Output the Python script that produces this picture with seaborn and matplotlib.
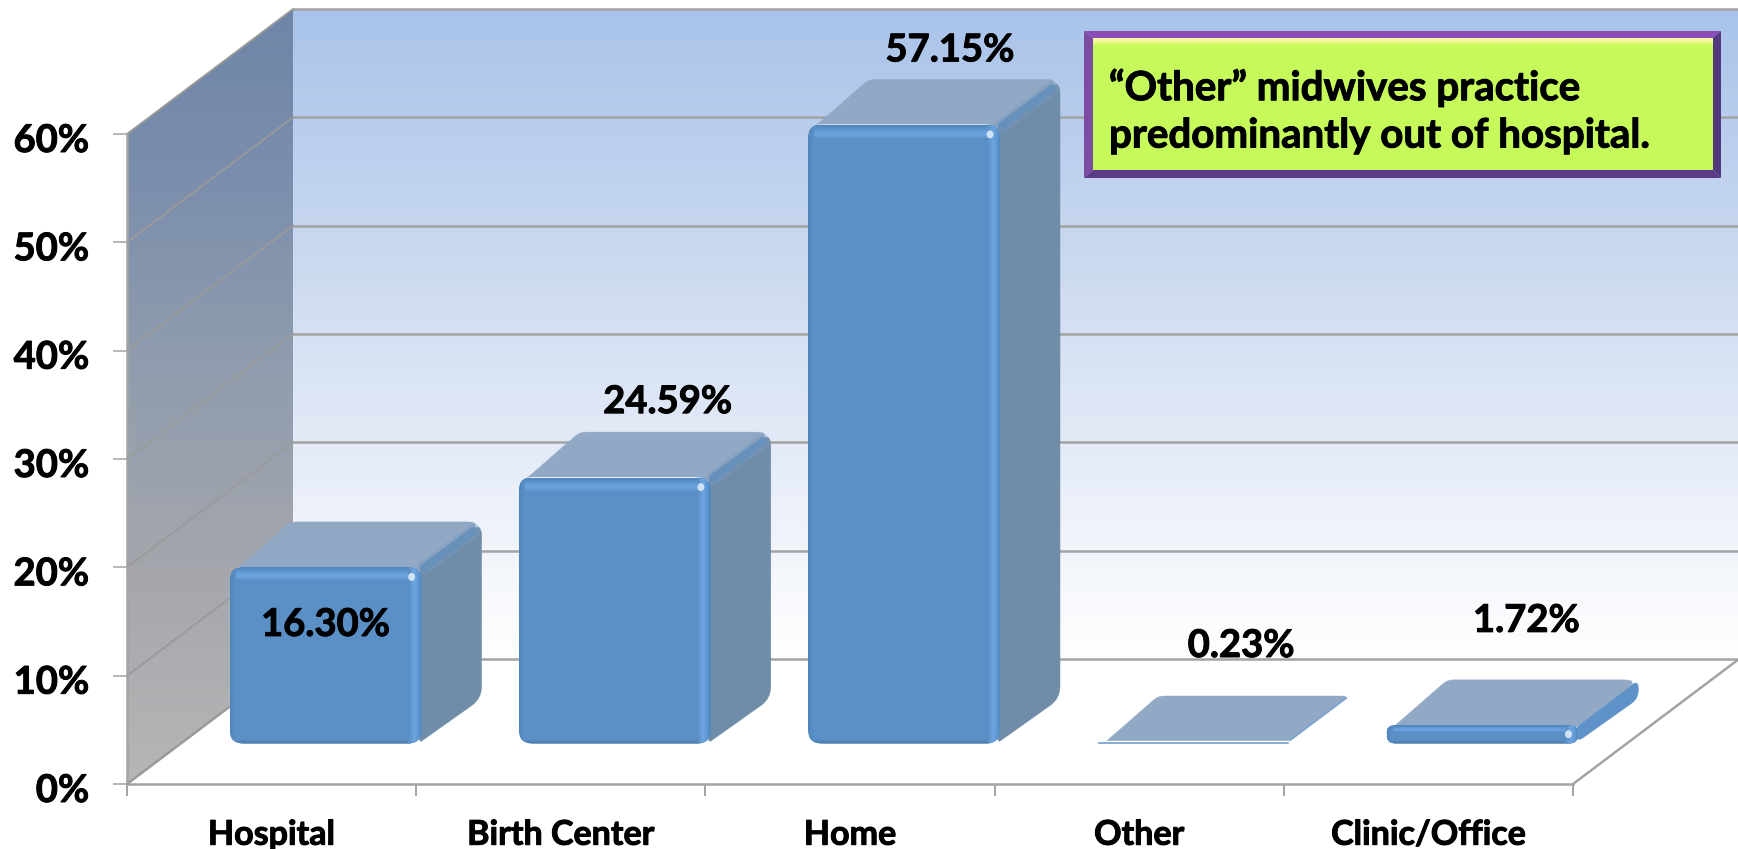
import numpy as np
import matplotlib
matplotlib.use("Agg")
import matplotlib.pyplot as plt
import seaborn as sns
import matplotlib.patheffects as pe
from matplotlib.colors import LinearSegmentedColormap
from matplotlib.lines import Line2D
from matplotlib.path import Path
from matplotlib.patches import FancyBboxPatch, Polygon, Ellipse, Rectangle, PathPatch
from matplotlib.transforms import Affine2D, IdentityTransform

# ---- data ----
categories = ["Hospital", "Birth Center", "Home", "Other", "Clinic/Office"]
shares = [16.30, 24.59, 57.15, 0.23, 1.72]
y_ticks = [0, 10, 20, 30, 40, 50, 60]
y_tick_labels = ["0%", "10%", "20%", "30%", "40%", "50%", "60%"]
note_lines = ["\u201cOther\u201d midwives practice", "predominantly out of hospital."]

# ---- layout (pixels) ----
W, H = 1738, 849
AX_L, AX_R, AX_B, AX_T = 127, 1573, 784, 134
DEPTH_X, DEPTH_Y = 166, 125          # floor depth
BAR_SHIFT = (54, 40.5)               # front plane of the bars vs. axes plane
BAR_DEPTH = (60, 45)
LABEL_OFFSETS = [(0, -58), (53, 75), (46, 74), (48, 95), (44, 104)]
FONT = "Lato"
GRID = "#A3A3A3"
HEAVY = [pe.withStroke(linewidth=0.7, foreground="black")]

sns.set_theme(style="white")
plt.rcParams["font.family"] = [FONT, "DejaVu Sans"]
plt.rcParams["font.weight"] = "bold"

fig = plt.figure(figsize=(W / 100, H / 100), dpi=100, facecolor="white")
ax = fig.add_axes([AX_L / W, (H - AX_B) / H, (AX_R - AX_L) / W, (AX_B - AX_T) / H])
ax.patch.set_visible(False)
IDENT = IdentityTransform()


def Y(y):
    return H - y


def pt(px):
    return px * 72 / 100


sns.barplot(x=categories, y=shares, color="#5B90C6", saturation=1, width=0.664,
            ax=ax, zorder=5)
bars = list(ax.patches)
ax.set_xlim(-0.5, 4.5)
ax.set_ylim(0, 60)
ax.autoscale(False)

# axes furniture
ax.set_xlabel("")
ax.set_ylabel("")
ax.set_yticks(y_ticks, y_tick_labels)
ax.set_xticks(range(len(categories)), categories)
ax.set_xticks(np.arange(-0.5, 5, 1), minor=True)
ax.tick_params(axis="x", which="major", length=0, pad=25, labelsize=24.5, colors="black")
ax.tick_params(axis="x", which="minor", length=pt(12), width=1.4, color=GRID, bottom=True)
ax.tick_params(axis="y", which="major", length=pt(14), width=1.1, pad=17, labelsize=27.5,
               color=GRID, labelcolor="black", left=True)
for label in ax.get_xticklabels():
    label.set_path_effects(HEAVY)
for label in ax.get_yticklabels():
    label.set_path_effects(HEAVY)
    label.set_transform(label.get_transform() + Affine2D().translate(0, -4))
for side in ("top", "right"):
    ax.spines[side].set_visible(False)
for side in ("left", "bottom"):
    ax.spines[side].set_color(GRID)
    ax.spines[side].set_linewidth(1.8)
ax.spines["left"].set_zorder(2)


def gradient(stops, extent, clip=None, z=0):
    cmap = LinearSegmentedColormap.from_list("g", stops)
    im = ax.imshow(np.linspace(0, 1, 256)[:, None], cmap=cmap, extent=extent, origin="upper",
                   aspect="auto", transform=IDENT, zorder=z, interpolation="bilinear")
    im.set_clip_box(fig.bbox)
    if clip is not None:
        im.set_clip_path(clip)
    else:
        im.set_clip_on(False)
    return im


# back wall and left wall
bx0 = AX_L + DEPTH_X
gradient([(0, "#A9C3EA"), (0.33, "#C6D6EF"), (0.66, "#E3EAF7"), (1, "#FFFFFF")],
         (bx0, W, Y(AX_B - DEPTH_Y), Y(AX_T - DEPTH_Y)))
wall = Polygon([(AX_L, Y(AX_B)), (AX_L, Y(AX_T)), (bx0, Y(AX_T - DEPTH_Y)), (bx0, Y(AX_B - DEPTH_Y))],
               transform=IDENT, facecolor="none", edgecolor="none", clip_on=False)
gradient([(0, "#6F86A8"), (0.2, "#7A8DAC"), (0.45, "#8F9CAE"), (0.72, "#A4A6AC"), (1, "#B6B6B6")],
         (AX_L, bx0, Y(AX_B), Y(AX_T - DEPTH_Y)), clip=wall)

# grid: back wall, left wall, floor (data coordinates)
dx_data = DEPTH_X / ((AX_R - AX_L) / 5)
dy_data = DEPTH_Y / ((AX_B - AX_T) / 60)
for t in y_ticks:
    ax.plot([-0.5 + dx_data, 4.5 + dx_data], [t + dy_data] * 2, color=GRID, lw=1.8,
            clip_on=False, zorder=1)
    ax.plot([-0.5, -0.5 + dx_data], [t, t + dy_data], color="#9A9A9A", lw=1.3 if t else 1.8,
            clip_on=False, zorder=2)
ax.plot([4.5, 4.5 + dx_data], [0, dy_data], color=GRID, lw=1.8, clip_on=False, zorder=2)


def face(pts, cuts, color, z):
    """Closed polygon whose corners are rounded, each by its own cut length."""
    pts = [np.asarray(p, float) for p in pts]
    n = len(pts)
    verts, codes = [], []
    for i in range(n):
        p, prev, nxt = pts[i], pts[i - 1], pts[(i + 1) % n]
        u = (prev - p) / np.hypot(*(prev - p))
        v = (nxt - p) / np.hypot(*(nxt - p))
        verts += [p + u * cuts[i], p, p + v * cuts[i]]
        codes += [Path.MOVETO if i == 0 else Path.LINETO, Path.CURVE3, Path.CURVE3]
    verts.append(verts[0])
    codes.append(Path.CLOSEPOLY)
    patch = PathPatch(Path(np.array(verts), codes), facecolor=color, edgecolor=color, lw=0.3,
                      transform=IDENT, zorder=z, clip_on=False)
    ax.add_patch(patch)
    return patch


shift = ax.transData + Affine2D().translate(*BAR_SHIFT)
bdx, bdy = BAR_DEPTH
TOP_RAMP = ["#5084BA", "#5388C0", "#568CC5", "#5A91CB", "#5E96D0", "#6199D4", "#649DD8", "#67A0DB",
            "#6AA2DE", "#6BA3DF", "#69A0DB", "#659BD4", "#6196CE", "#5D92C9", "#5B90C6"]
RIGHT_RAMP = ["#4C80B6", "#5288C0", "#578FC8", "#5D95CF", "#6299D5", "#669DD9", "#69A1DD", "#6BA3DF",
              "#6BA3DF", "#69A0DB", "#659BD4", "#6196CE", "#5D92C9", "#5B90C6"]
BOTTOM_RAMP = ["#4A7AAC", "#4F80B2", "#5383B6", "#5687BC", "#598CC1", "#5B90C6"]
LEFT_RAMP = ["#5085BC", "#5388BE", "#558AC1", "#578CC3", "#598EC5", "#5B90C6"]

for bar, value in zip(bars, shares):
    (x0, y0) = shift.transform((bar.get_x(), 0))
    (x1, y1) = shift.transform((bar.get_x() + bar.get_width(), bar.get_height()))
    h = y1 - y0
    tall = h > 30
    r = 14 if tall else max(h / 2, 2)
    bar.set_transform(shift)
    box = FancyBboxPatch((x0, y0), x1 - x0, h, boxstyle=f"round,pad=0,rounding_size={r}",
                         transform=IDENT)
    bar.set_clip_box(fig.bbox)
    if h > 5:
        bar.set_clip_path(box)

    top = [(x0 + 6, y1 - 3), (x1 - 3, y1 - 3), (x1 + bdx, y1 + bdy), (x0 + bdx + 1, y1 + bdy)]
    face(top, [3, 3, 14 if h > 5 else 7, 6], "#92A9C5", 3)
    side = [(x1 - 2, y0 + 1), (x1 + bdx, y0 + bdy), (x1 + bdx, y1 + bdy), (x1 - 2, y1)]
    if tall:
        face(side, [3, 12, 14, 3], "#6F8DA8", 4)
        for lw, col, alpha in ((14, "#7C9ABC", 0.45), (8, "#6591BC", 0.85)):
            ax.add_line(Line2D([x1 + 2, x1 + bdx - 8], [y1 - 1, y1 + bdy - 9], color=col,
                               lw=pt(lw), alpha=alpha, transform=IDENT, zorder=4.5,
                               solid_capstyle="round", clip_on=False))
    elif h > 5:
        face(side, [h / 2 - 1] * 4, "#5E92C9", 2.5)
    else:
        ax.add_line(Line2D([x1 + 2, x1 + bdx - 3], [y1 + 2, y1 + bdy - 2], color="#7FA6CE",
                           lw=pt(2), transform=IDENT, zorder=4.5, clip_on=False))

    # bevel of the front face
    if h > 5:
        segs = []
        for i, c in enumerate(TOP_RAMP if tall else TOP_RAMP[::2][:int(h * 0.5)]):
            segs.append(([x0, x1], [y1 - i - 0.5] * 2, c))
        for i, c in enumerate(BOTTOM_RAMP if tall else BOTTOM_RAMP[:3]):
            segs.append(([x0, x1], [y0 + i + 0.5] * 2, c))
        for i, c in enumerate(LEFT_RAMP):
            segs.append(([x0 + i + 0.5] * 2, [y0, y1], c))
        for i, c in enumerate(RIGHT_RAMP):
            segs.append(([x1 - i - 0.5] * 2, [y0, y1], c))
        for xs, ys, c in segs:
            ln = Line2D(xs, ys, color=c, lw=pt(1.05), transform=IDENT, zorder=5.5,
                        solid_capstyle="butt")
            ax.add_line(ln)
            ln.set_clip_box(fig.bbox)
            ln.set_clip_path(box)
        ax.add_patch(Ellipse((x1 - 10, y1 - (10 if tall else h / 2)), 7, 8, facecolor="#EAF4FF", edgecolor="none",
                             alpha=0.8, transform=IDENT, zorder=6, clip_on=False))
    else:
        bar.set_facecolor("#6C9BCB")

# value labels
for bar, value, (ox, oy) in zip(bars, shares, LABEL_OFFSETS):
    (cx, cy) = shift.transform((bar.get_x() + bar.get_width() / 2, bar.get_height()))
    ax.text(cx + ox, cy + oy, f"{value:.2f}%", transform=IDENT, ha="center", va="center",
            fontsize=27.5, fontweight="bold", color="black", zorder=9, clip_on=False,
            path_effects=HEAVY)

# note box
L, R, T, B = 1084, 1721, 31, 178
IL, IR, IT, IB = 1093, 1713, 38, 170
ax.add_patch(Rectangle((IL, Y(IB)), IR - IL, IB - IT, facecolor="#C6FA5A", edgecolor="none",
                       transform=IDENT, zorder=10, clip_on=False))
for i, c in enumerate(["#F6F7A8", "#F6F7A8", "#F4F8A0", "#EEF892", "#E4F982", "#D8FA72", "#CEFA64", "#C9FA5D"]):
    ax.add_patch(Rectangle((IL, Y(IT + i + 1)), IR - IL, 1, facecolor=c, edgecolor="none",
                           transform=IDENT, zorder=10.1, clip_on=False))
corners = {"o": [(L, T), (R, T), (R, B), (L, B)], "i": [(IL, IT), (IR, IT), (IR, IB), (IL, IB)]}
sides = [(0, 1, "#8A4DB6"), (1, 2, "#52397E"), (2, 3, "#5B3A86"), (3, 0, "#7C4BA4")]
for a, b, c in sides:
    quad = [corners["o"][a], corners["o"][b], corners["i"][b], corners["i"][a]]
    ax.add_patch(Polygon([(x, Y(y)) for x, y in quad], facecolor=c, edgecolor="none",
                         transform=IDENT, zorder=10.2, clip_on=False))
for line, ty in zip(note_lines, (88, 136)):
    ax.text(1109, Y(ty), line, transform=IDENT, ha="left", va="center", fontsize=29,
            fontweight="bold", color="black", zorder=11, clip_on=False, path_effects=HEAVY)

ax.set_xlim(-0.5, 4.5)
ax.set_ylim(0, 60)
fig.savefig("out.png", dpi=100, facecolor="white")
